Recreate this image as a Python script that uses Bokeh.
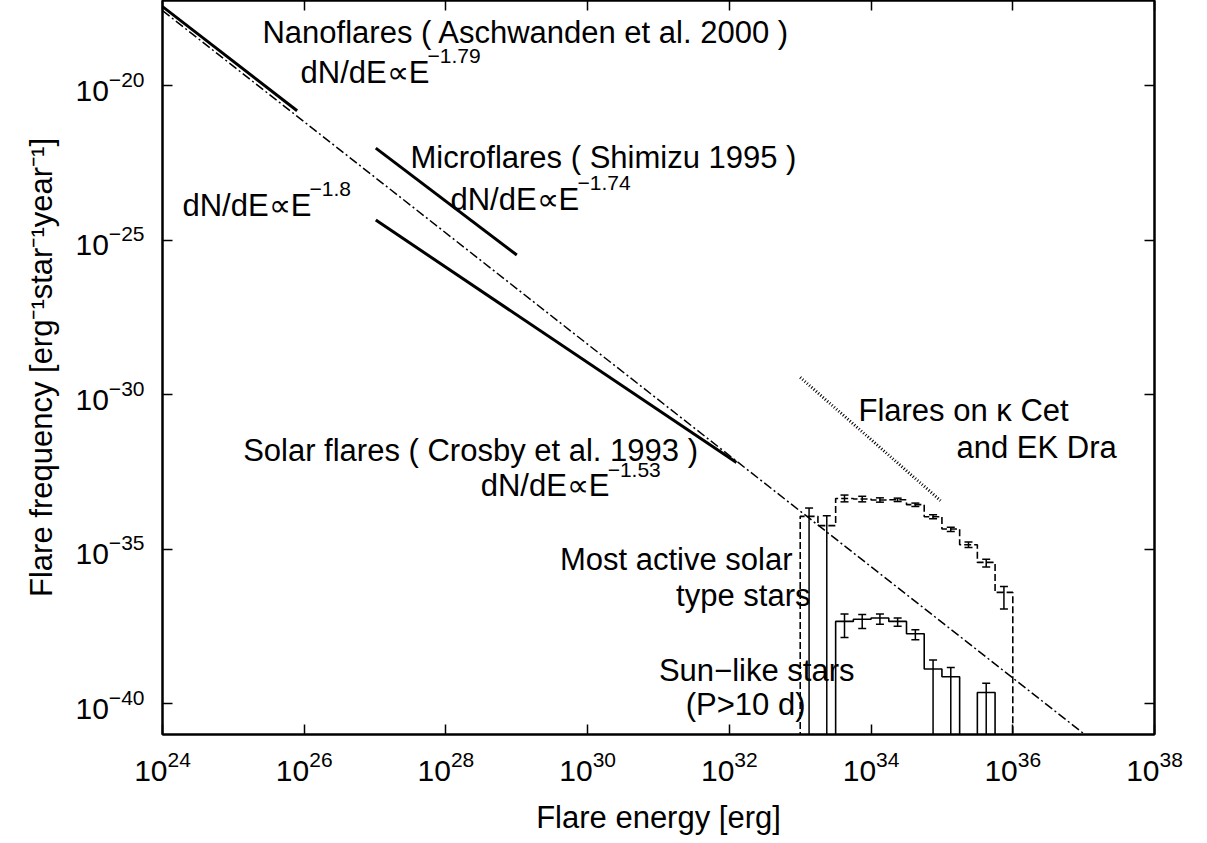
import numpy as np
from bokeh.plotting import figure
from bokeh.models import (LogAxis, FixedTicker, Label, Whisker, TeeHead,
                          ColumnDataSource, CustomJSTickFormatter, Range1d)
from bokeh.embed import file_html
from bokeh.resources import INLINE

FONT = "Liberation Sans"

# ---------------- data (log10 values) ----------------
x_tick_exp = [24, 26, 28, 30, 32, 34, 36, 38]
y_tick_exp = [-40, -35, -30, -25, -20]

# overall power-law fit dN/dE ~ E^-1.8
fit_logE = [24.0, 37.0]
fit_logF = [-17.57, -40.97]

# Nanoflares (Aschwanden et al. 2000)
nano_logE = [24.0, 25.9]
nano_logF = [-17.44, -20.81]

# Microflares (Shimizu 1995)
micro_logE = [27.01, 29.0]
micro_logF = [-22.02, -25.48]

# Solar flares (Crosby et al. 1993)
solar_logE = [27.01, 32.1]
solar_logF = [-24.35, -32.2]

# Flares on kappa Cet and EK Dra
kcet_logE = [33.0, 34.98]
kcet_logF = [-29.44, -33.43]

bin_width = 0.25

# Most active solar type stars (dashed histogram)
active_start = 33.0
active_logF = [-33.94, -34.24, -33.36, -33.38, -33.41, -33.40,
               -33.56, -33.95, -34.35, -34.86, -35.43, -36.40]
active_hi = [-33.67, -33.92, -33.25, -33.29, -33.34, -33.35,
             -33.51, -33.89, -34.29, -34.77, -35.33, -36.21]
active_lo = [None, None, -33.47, -33.47, -33.48, -33.46,
             -33.62, -34.02, -34.43, -34.95, -35.58, -36.94]

# Sun-like stars, P > 10 d (solid histogram)
sun_start = 33.5
sun_logF = [-37.34, -37.27, -37.23, -37.34, -37.74, -38.88, -39.13, None, -39.64]
sun_hi = [-37.10, -37.12, -37.10, -37.23, -37.61, -38.59, -38.83, None, -39.34]
sun_lo = [-37.86, -37.57, -37.43, -37.50, -37.93, None, None, None, None]

FLOOR = -46.0  # below the axis (empty / zero)

# ---------------- figure ----------------
p = figure(x_axis_type="log", y_axis_type="log",
           x_range=Range1d(10.0 ** 24, 10.0 ** 38),
           y_range=Range1d(10.0 ** -41.0, 10.0 ** -17.243),
           frame_width=992, frame_height=734,
           min_border_left=162, min_border_right=37,
           min_border_top=0, min_border_bottom=93,
           output_backend="svg", toolbar_location=None)
p.xgrid.visible = False
p.ygrid.visible = False
p.outline_line_color = "black"
p.outline_line_width = 2
p.background_fill_color = "white"
p.border_fill_color = "white"

xt = [10.0 ** e for e in x_tick_exp]
yt = [10.0 ** e for e in y_tick_exp]


def style_axis(ax, label_size="30px"):
    ax.axis_line_width = 2
    ax.axis_line_color = "black"
    ax.major_tick_in = 10
    ax.major_tick_out = 0
    ax.major_tick_line_width = 1.5
    ax.major_tick_line_color = "black"
    ax.minor_tick_line_color = None
    ax.major_label_text_font = FONT
    ax.major_label_text_font_size = label_size
    ax.major_label_text_color = "black"
    ax.axis_label_text_font = FONT
    ax.axis_label_text_font_size = "31px"
    ax.axis_label_text_font_style = "normal"
    ax.axis_label_text_color = "black"


xa = p.xaxis[0]
xa.ticker = FixedTicker(ticks=xt, minor_ticks=[])
style_axis(xa)
xa.major_label_standoff = 16
xa.axis_label = "Flare energy [erg]"
xa.axis_label_standoff = 16

ya = p.yaxis[0]
ya.ticker = FixedTicker(ticks=yt, minor_ticks=[])
style_axis(ya)
ya.major_label_standoff = 18
ya.axis_label = "Flare frequency [erg\u207b\u00b9star\u207b\u00b9year\u207b\u00b9]"
ya.axis_label_standoff = 14

blank = CustomJSTickFormatter(code="return ''")
top = LogAxis(ticker=FixedTicker(ticks=xt, minor_ticks=[]), formatter=blank)
style_axis(top, "0px")
top.major_label_standoff = 0
p.add_layout(top, "above")
right = LogAxis(ticker=FixedTicker(ticks=yt, minor_ticks=[]), formatter=blank)
style_axis(right, "0px")
right.major_label_standoff = 0
p.add_layout(right, "right")

# ---------------- lines ----------------
def pw(v):
    return [10.0 ** a for a in v]

p.line(pw(fit_logE), pw(fit_logF), line_color="black", line_width=1.5,
       line_dash="9 3 2 3")
for le, lf in [(nano_logE, nano_logF), (micro_logE, micro_logF), (solar_logE, solar_logF)]:
    p.line(pw(le), pw(lf), line_color="black", line_width=3)
p.line(pw(kcet_logE), pw(kcet_logF), line_color="black", line_width=3, line_dash="1 2")


# ---------------- histograms ----------------
def outline(start, vals):
    xs, ys = [start], [FLOOR]
    for i, v in enumerate(vals):
        lv = FLOOR if v is None else v
        xs += [start + i * bin_width, start + (i + 1) * bin_width]
        ys += [lv, lv]
    xs.append(start + len(vals) * bin_width)
    ys.append(FLOOR)
    return pw(xs), pw(ys)


ax_, ay_ = outline(active_start, active_logF)
p.line(ax_, ay_, line_color="black", line_width=1.6, line_dash="7 3")
sx_, sy_ = outline(sun_start, sun_logF)
p.line(sx_, sy_, line_color="black", line_width=1.6)


def whiskers(start, vals, hi, lo):
    both = dict(x=[], up=[], lo=[])
    single = dict(x=[], up=[], lo=[])
    for i, v in enumerate(vals):
        if v is None:
            continue
        c = 10.0 ** (start + (i + 0.5) * bin_width)
        if lo[i] is None:
            single["x"].append(c); single["up"].append(10.0 ** hi[i]); single["lo"].append(10.0 ** FLOOR)
        else:
            both["x"].append(c); both["up"].append(10.0 ** hi[i]); both["lo"].append(10.0 ** lo[i])
    return both, single


for st, v, h, l in [(active_start, active_logF, active_hi, active_lo),
                    (sun_start, sun_logF, sun_hi, sun_lo)]:
    both, single = whiskers(st, v, h, l)
    w1 = Whisker(source=ColumnDataSource(both), base="x", upper="up", lower="lo",
                 dimension="height", line_width=1.5, line_color="black",
                 upper_head=TeeHead(size=8, line_width=1.5, line_color="black"),
                 lower_head=TeeHead(size=8, line_width=1.5, line_color="black"))
    w2 = Whisker(source=ColumnDataSource(single), base="x", upper="up", lower="lo",
                 dimension="height", line_width=1.5, line_color="black",
                 upper_head=TeeHead(size=8, line_width=1.5, line_color="black"),
                 lower_head=None)
    p.add_layout(w1)
    p.add_layout(w2)


# ---------------- annotations ----------------
def lab(le, lf, text, size="31px", align="left", xo=0, yo=0):
    p.add_layout(Label(x=10.0 ** le, y=10.0 ** lf, text=text, text_font=FONT,
                       text_font_size=size, text_align=align,
                       text_baseline="alphabetic", text_color="black",
                       x_offset=xo, y_offset=yo))


def powerlaw(le, lf, expo):
    lab(le, lf, "dN/dE\u221dE")
    lab(le, lf, expo, size="21px", xo=127, yo=16)


lab(25.411, -18.278, "Nanoflares ( Aschwanden et al. 2000 )")
powerlaw(25.948, -19.573, "\u22121.79")
lab(27.500, -22.324, "Microflares ( Shimizu 1995 )")
powerlaw(28.064, -23.683, "\u22121.74")
powerlaw(24.282, -23.877, "\u22121.8")
lab(25.138, -31.81, "Solar flares ( Crosby et al. 1993 )")
powerlaw(28.49, -32.95, "\u22121.53")
lab(33.822, -30.511, "Flares on \u03ba Cet")
lab(35.205, -31.709, "and EK Dra")
lab(32.891, -35.333, "Most active solar", align="right")
lab(33.145, -36.498, "type stars", align="right")
lab(33.766, -38.925, "Sun\u2212like stars", align="right")
lab(33.074, -40.026, "(P>10 d)", align="right")

open("out.html", "w").write(file_html(p, INLINE))
